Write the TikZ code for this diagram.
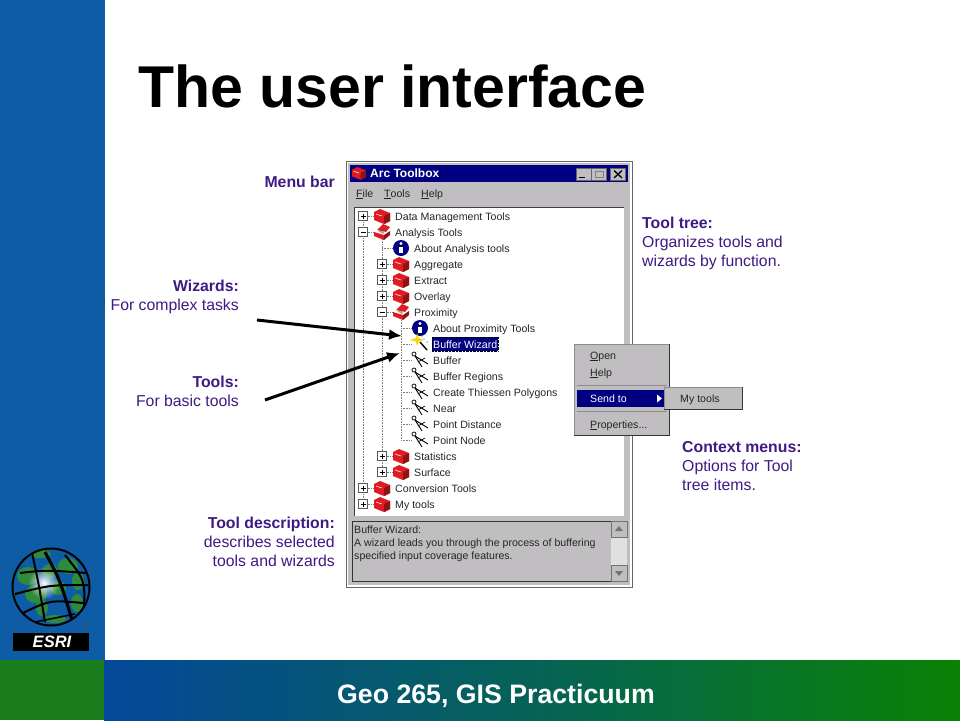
\documentclass[tikz,border=0pt]{standalone}
\usepackage{fontspec}
\setmainfont{Liberation Sans}
\usetikzlibrary{arrows.meta, positioning, fadings}

\definecolor{stripblue}{HTML}{0F5CA6}
\definecolor{bandblue}{HTML}{03489A}
\definecolor{bandgreen}{HTML}{0A8204}
\definecolor{squaregreen}{HTML}{1A7D1E}
\definecolor{labelpurple}{HTML}{3F1A85}
\definecolor{wingray}{HTML}{C0BEC0}
\definecolor{winnavy}{HTML}{000080}
\definecolor{boxred}{HTML}{DE1C22}
\definecolor{globegreen}{HTML}{2E8B3A}

\tikzfading[name=glow, inner color=transparent!0, outer color=transparent!100]

\tikzset{
  note/.style={font=\fontsize{15.8}{19}\selectfont, text=labelpurple, inner sep=0pt, align=left},
  noter/.style={note, align=right},
  ui/.style={font=\fontsize{10.6}{13}\selectfont, text=black!85, inner sep=0pt, anchor=base west},
  dots/.style={densely dotted, gray, line width=0.6pt},
  bigarrow/.style={-{Latex[length=13pt,width=11pt]}, line width=3pt, black},
  redbox/.pic={
    \fill[boxred] (-8,-4) -- (-2,-7) -- (8,-3) -- (8,5) -- (2,8) -- (-8,4) -- cycle;
    \fill[boxred!65!black] (2,0) -- (8,-3) -- (8,5) -- (2,8) -- cycle;
    \draw[white, line width=0.5pt] (-6,-2) -- (0,0);
  },
  openbox/.pic={
    \fill[boxred] (-8,0) -- (2,3) -- (2,8) -- (-8,4) -- cycle;
    \fill[boxred!65!black] (2,3) -- (8,-1) -- (8,3) -- (2,8) -- cycle;
    \fill[boxred] (-5,-2) -- (1,-8) -- (8,-5) -- (4,0) -- cycle;
    \fill[gray!70] (-4,-1) -- (3,-1) -- (1,2) -- cycle;
  },
  infoicon/.pic={
    \fill[winnavy] (0,0) circle (8);
    \fill[white] (0,-4.5) circle (1.6);
    \fill[white] (-1.6,-1.5) rectangle (1.6,5);
  },
  compass/.pic={
    \draw[black, line width=0.9pt] (-5,-4) -- (8,4) (-5,-4) -- (2,7);
    \draw[black, line width=0.7pt] (-6,-6) circle (2);
    \draw[black, line width=0.7pt] (-2,2) -- (5,-2);
  },
  wizwand/.pic={
    \fill[yellow!70!orange] (-4,-6) -- (-3,-11) -- (-1.5,-6) -- (4,-4) -- (-1.5,-2.5) -- (-3,2) -- (-4,-2.5) -- (-10,-4) -- cycle;
    \draw[black, line width=1.4pt] (0,-2) -- (7,6);
    \fill[black!70] (4,-5) circle (0.6) (7,-2) circle (0.6) (2,-8) circle (0.6);
  },
  plusbox/.pic={
    \draw[gray!70!black, fill=white, line width=0.5pt] (-4.5,-4.5) rectangle (4.5,4.5);
    \draw[black, line width=0.6pt] (-2.5,0) -- (2.5,0) (0,-2.5) -- (0,2.5);
  },
  minusbox/.pic={
    \draw[gray!70!black, fill=white, line width=0.5pt] (-4.5,-4.5) rectangle (4.5,4.5);
    \draw[black, line width=0.6pt] (-2.5,0) -- (2.5,0);
  },
}

\begin{document}
\begin{tikzpicture}[x=1pt,y=-1pt]
  \useasboundingbox (0,0) rectangle (960,720);

  % Background
  \fill[white] (0,0) rectangle (960,720);
  \fill[stripblue] (0,0) rectangle (105,660);
  \fill[squaregreen] (0,660) rectangle (104,720);
  \shade[left color=bandblue, right color=bandgreen, middle color=bandblue!55!bandgreen] (104,660) rectangle (960,720);

  % Title and footer
  \node[font=\fontsize{59}{70}\selectfont\bfseries, text=black, anchor=west, inner sep=0pt] (title) at (138,86) {The user interface};
  \node[font=\fontsize{26.7}{32}\selectfont\bfseries, text=white, inner sep=0pt] (footer) at (496,695.5) {Geo 265, GIS Practicuum};

  % Globe
  \begin{scope}
    \clip (51,587) circle (39);
    \fill[stripblue] (51,587) circle (39);
    \fill[globegreen] (28,576) ellipse (11 and 9);
    \fill[globegreen] (36,594) ellipse (11 and 9);
    \fill[globegreen] (50,571) ellipse (8 and 7);
    \fill[globegreen] (68,566) ellipse (10 and 8);
    \fill[globegreen] (58,588) ellipse (8 and 7);
    \fill[globegreen] (78,581) ellipse (6 and 9);
    \fill[globegreen] (77,603) ellipse (6 and 9);
    \fill[globegreen] (42,608) ellipse (6 and 8);
    \fill[globegreen] (55,619) ellipse (11 and 4);
    \fill[globegreen] (40,554) ellipse (11 and 4);
    \fill[white, path fading=glow] (44,583) circle (16);
    \draw[black, line width=2pt] (32,553) .. controls (38,580) .. (45,622);
    \draw[black, line width=3pt] (45,552) .. controls (60,580) .. (72,620);
    \draw[black, line width=2pt] (65,555) .. controls (85,580) .. (84,610);
    \draw[black, line width=2pt] (20,573) .. controls (45,570) .. (87,573);
    \draw[black, line width=2pt] (15,594) .. controls (50,585) .. (88,585);
    \draw[black, line width=2pt] (23,613) .. controls (50,600) .. (83,603);
    \draw[black, line width=1.5pt] (35,622) .. controls (55,618) .. (75,614);
  \end{scope}
  \draw[black, line width=2pt] (51,587) circle (38.5);
  \draw[black!70, line width=0.4pt] (85,625) circle (2.8);
  \fill[black] (13,633) rectangle (89,651);
  \node[font=\fontsize{16.5}{18}\selectfont\bfseries\itshape, text=white, inner sep=0pt] (esri) at (52,642) {ESRI};

  % Window
  \fill[white] (346,161) rectangle (632,587);
  \fill[wingray] (348,163) rectangle (630,585);
  \draw[black!60, line width=0.7pt] (346.5,161.5) rectangle (632,587);
  \fill[winnavy] (350,165) rectangle (628,182);
  \pic at (359,173) [scale=0.85] {redbox};
  \node[font=\fontsize{12}{14}\selectfont\bfseries, text=white, inner sep=0pt, anchor=west] (wintitle) at (370,173.5) {Arc Toolbox};
  \foreach \bx in {576,591,610}
    \draw[black!60, fill=wingray, line width=0.6pt] (\bx,168) rectangle ++(15,12);
  \draw[black, line width=1.2pt] (579,177.5) -- (585,177.5);
  \draw[gray, line width=1pt] (595,171) rectangle (603,177);
  \draw[black, line width=1.3pt] (614,170.5) -- (622,178) (622,170.5) -- (614,178);

  % Menu bar
  \node[ui] (menufile) at (356,197) {\underline{F}ile};
  \node[ui] (menutools) at (384,197) {\underline{T}ools};
  \node[ui] (menuhelp) at (421,197) {\underline{H}elp};

  % Tool tree
  \fill[white] (354,207) rectangle (624,516);
  \draw[black!75, line width=0.8pt] (354,207) -- (624,207) (354,207) -- (354,516);

  \draw[dots] (363,222) -- (363,504);
  \draw[dots] (382,236) -- (382,472);
  \draw[dots] (401,320) -- (401,440);
  \foreach \ty in {216,232,488,504}
    \draw[dots] (363,\ty) -- (373,\ty);
  \foreach \ty in {264,280,296,312,456,472}
    \draw[dots] (382,\ty) -- (392,\ty);
  \draw[dots] (382,248) -- (392,248);
  \foreach \ty in {328,344,360,376,392,408,424,440}
    \draw[dots] (401,\ty) -- (411,\ty);

  % Level 0
  \foreach \ty/\txt in {216/Data Management Tools,488/Conversion Tools,504/My tools} {
    \pic at (363,\ty) {plusbox};
    \pic at (382,\ty) {redbox};
    \node[ui] (top\ty) at (395,\ty+4) {\txt};
  }
  \pic at (363,232) {minusbox};
  \pic at (382,232) {openbox};
  \node[ui] (top232) at (395,236) {Analysis Tools};

  % Level 1
  \foreach \ty/\txt in {264/Aggregate,280/Extract,296/Overlay,456/Statistics,472/Surface} {
    \pic at (382,\ty) {plusbox};
    \pic at (401,\ty) {redbox};
    \node[ui] (sub\ty) at (414,\ty+4) {\txt};
  }
  \pic at (382,312) {minusbox};
  \pic at (401,312) {openbox};
  \node[ui] (sub312) at (414,316) {Proximity};
  \pic at (401,248) {infoicon};
  \node[ui] (sub248) at (414,252) {About Analysis tools};

  % Level 2
  \pic at (420,328) {infoicon};
  \node[ui] (leaf328) at (433,332) {About Proximity Tools};
  \pic at (420,344) {wizwand};
  \fill[winnavy] (432,337) rectangle (498,351);
  \draw[black, densely dotted, line width=0.4pt] (432,337) rectangle (498,351);
  \node[ui, text=white] (leaf344) at (433,348) {Buffer Wizard};
  \foreach \ty/\txt in {360/Buffer,376/Buffer Regions,392/Create Thiessen Polygons,408/Near,424/Point Distance,440/Point Node} {
    \pic at (420,\ty) {compass};
    \node[ui] (leaf\ty) at (433,\ty+4) {\txt};
  }

  % Description pane
  \fill[wingray] (352,521) rectangle (611,581);
  \draw[black!80, line width=0.8pt] (352,521) rectangle (611,581);
  \node[ui, anchor=north west, align=left] (desc) at (354,526) {Buffer Wizard:\\A wizard leads you through the process of buffering\\specified input coverage features.};
  \fill[black!12] (611,521) rectangle (627,581);
  \foreach \sy in {521,565}
    \draw[black!55, fill=wingray, line width=0.6pt] (611.5,\sy) rectangle (627,\sy+16);
  \fill[black!55] (619,526) -- (615,531) -- (623,531) -- cycle;
  \fill[black!55] (619,576) -- (615,571) -- (623,571) -- cycle;

  % Context menu
  \fill[wingray] (574,344) rectangle (669,435);
  \draw[black!45, line width=0.6pt] (574,435) -- (574,344) -- (669,344);
  \draw[black!80, line width=1pt] (574,435) -- (669,435) -- (669,344);
  \node[ui] (ctxopen) at (590,359) {\underline{O}pen};
  \node[ui] (ctxhelp) at (590,376) {\underline{H}elp};
  \draw[black!45, line width=0.7pt] (577,385) -- (667,385);
  \fill[winnavy] (577,390) rectangle (665,407);
  \node[ui, text=white] (ctxsend) at (590,402) {Send to};
  \fill[white] (657,394.5) -- (662,398.5) -- (657,402.5) -- cycle;
  \draw[black!45, line width=0.7pt] (577,411) -- (667,411);
  \node[ui] (ctxprop) at (590,428) {\underline{P}roperties...};

  % Submenu
  \fill[wingray] (664,387) rectangle (742,409);
  \draw[black!45, line width=0.6pt] (664,409) -- (664,387) -- (742,387);
  \draw[black!80, line width=1pt] (664,409) -- (742,409) -- (742,387);
  \node[ui] (submytools) at (680,402) {My tools};

  % Left notes
  \node[noter, anchor=north east, font=\fontsize{15.8}{19}\selectfont\bfseries] (menubar) at (335,175.5) {Menu bar};
  \node[noter, anchor=north east] (wizards) at (239,280) {\textbf{Wizards:}\\For complex tasks};
  \node[noter, anchor=north east] (tools) at (239,376) {\textbf{Tools:}\\For basic tools};
  \node[noter, anchor=north east] (tooldesc) at (335,517) {\textbf{Tool description:}\\describes selected\\tools and wizards};

  % Right notes
  \node[note, anchor=north west] (tooltree) at (642,216.5) {\textbf{Tool tree:}\\Organizes tools and\\wizards by function.};
  \node[note, anchor=north west] (context) at (682,441) {\textbf{Context menus:}\\Options for Tool\\tree items.};

  % Arrows
  \coordinate (wizstart) at (257,320);
  \coordinate (wizend) at (402,336);
  \coordinate (toolstart) at (265,400);
  \coordinate (toolend) at (400,353);
  \draw[bigarrow] (wizstart) -- (wizend);
  \draw[bigarrow] (toolstart) -- (toolend);
\end{tikzpicture}
\end{document}
